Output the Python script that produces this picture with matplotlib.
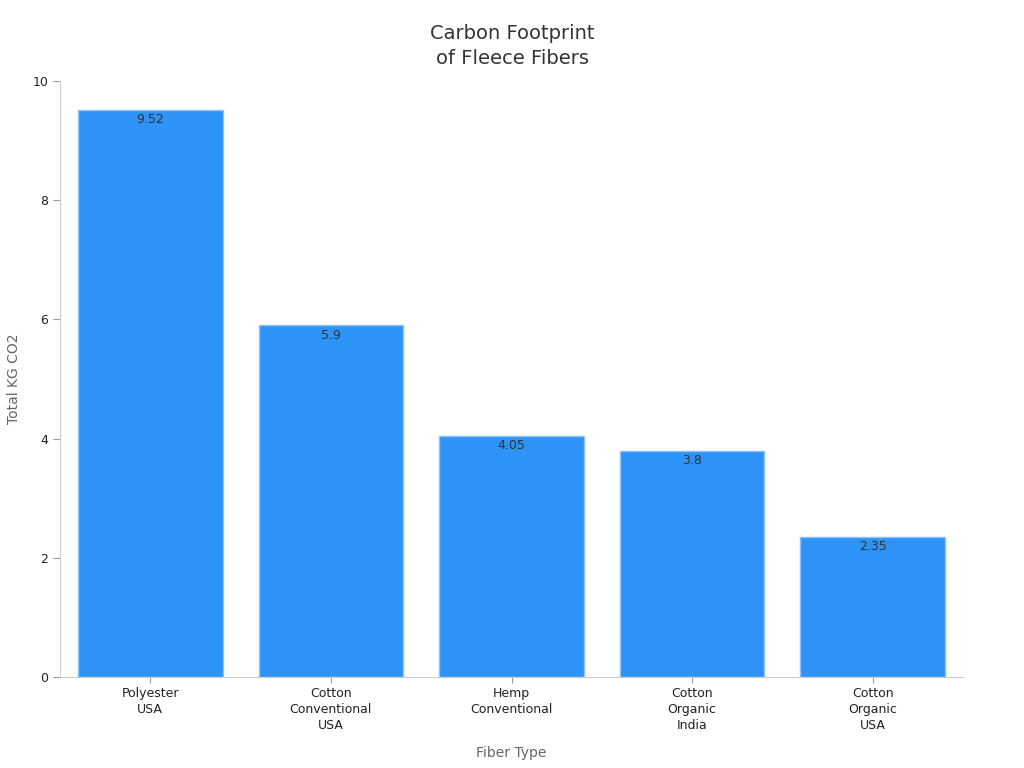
import matplotlib.pyplot as plt

# data
fibers = ["Polyester\nUSA", "Cotton\nConventional\nUSA", "Hemp\nConventional",
          "Cotton\nOrganic\nIndia", "Cotton\nOrganic\nUSA"]
kg_co2 = [9.52, 5.9, 4.05, 3.8, 2.35]
value_labels = ["9.52", "5.9", "4.05", "3.8", "2.35"]

fig = plt.figure(figsize=(10.24, 7.68), dpi=100)
ax = fig.add_axes([60/1024, 1 - 677/768, 903/1024, 596/768])

xs = range(len(fibers))
bars = ax.bar(xs, kg_co2, width=0.8, color="#2E93F6", edgecolor="#8CC4FA", linewidth=1)

# value labels just inside the top of each bar
for b, lab in zip(bars, value_labels):
    ax.annotate(lab, (b.get_x() + b.get_width() / 2, b.get_height()),
                xytext=(0, -2.5), textcoords="offset points",
                ha="center", va="top", fontsize=9, color="#333333")

ax.set_xlim(-0.5, len(fibers) - 0.5)
ax.set_ylim(0, 10)
ax.set_yticks([0, 2, 4, 6, 8, 10])
ax.set_xticks(list(xs))
ax.set_xticklabels(fibers, fontsize=9, color="#222222", linespacing=1.3)
ax.tick_params(axis="y", labelsize=9, labelcolor="#222222", color="#999999", length=5)
ax.tick_params(axis="x", color="#999999", length=4)

for s in ["top", "right"]:
    ax.spines[s].set_visible(False)
for s in ["left", "bottom"]:
    ax.spines[s].set_color("#cccccc")

ax.set_xlabel("Fiber Type", fontsize=10, color="#666666", labelpad=10)
ax.set_ylabel("Total KG CO2", fontsize=10, color="#666666", labelpad=8)
fig.text(0.5, 0.94, "Carbon Footprint\nof Fleece Fibers", ha="center", va="center",
         fontsize=14, color="#333333", linespacing=1.35)

fig.savefig("out.png", dpi=100)
